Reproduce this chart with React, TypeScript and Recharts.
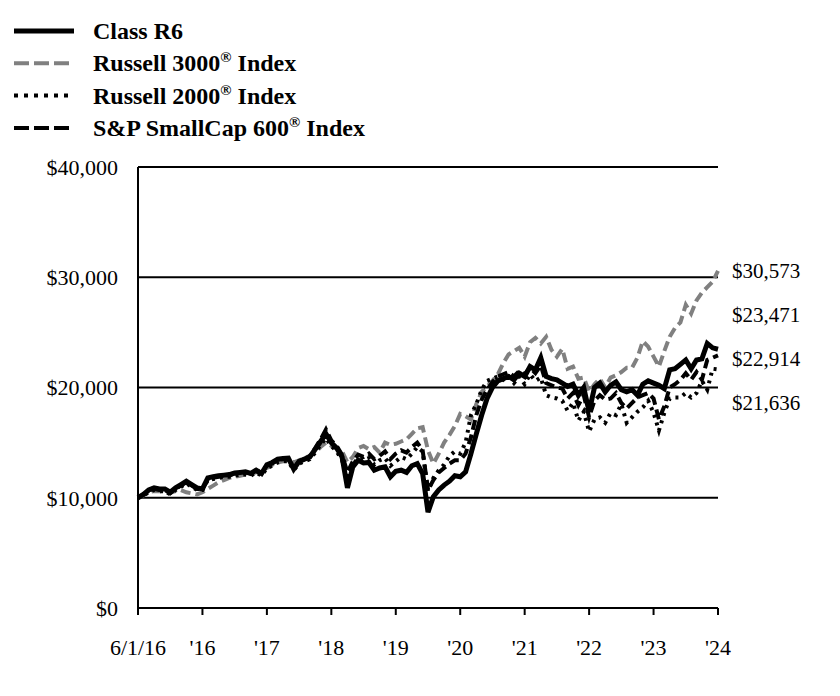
import React from 'react';
import { LineChart, Line, XAxis, YAxis, CartesianGrid } from 'recharts';

// monthly growth of a $10,000 investment
const classR6 = [
    10000, 10300, 10700, 10900, 10800, 10800, 10500, 10900, 11200, 11500, 11200, 10900,
    10800, 11800, 11900, 12000, 12050, 12100, 12250, 12300, 12350, 12200, 12500, 12200,
    13000, 13200, 13500, 13550, 13600, 12600, 13300, 13500, 13700, 14400, 15100, 15800,
    15000, 14500, 13700, 10900, 12800, 13400, 13150, 13200, 12500, 12700, 12800, 11900,
    12400, 12500, 12300, 12900, 13100, 12200, 8700, 10100, 10700, 11150, 11500, 12000,
    11900, 12350, 14000, 15800, 17500, 19000, 20000, 20600, 20800, 21000, 20700, 21300,
    21000, 21900, 21600, 22700, 21000, 20800, 20700, 20400, 20100, 20300, 19300, 20000,
    17800, 20000, 20400, 19600, 20200, 20500, 19800, 19600, 19800, 19300, 20300, 20600,
    20400, 20200, 19900, 21600, 21700, 22100, 22500, 21700, 22500, 22600, 24000, 23600,
    23471,
];

const russell3000 = [
    10000, 10200, 10500, 10600, 10600, 10500, 10450, 10600, 10700, 10500, 10400, 10300,
    10500, 10800, 11100, 11400, 11600, 11800, 11900, 12000, 12100, 12200, 12300, 12500,
    12700, 13000, 13200, 13300, 13500, 13200, 13400, 13600, 13800, 14100, 14600, 15000,
    14700, 14500, 14200, 13200, 13700, 14500, 14700, 14400, 14600, 14100, 15000, 14800,
    14900, 15100, 15300, 15800, 16300, 16400, 14300, 13100, 14000, 15000, 15700, 16500,
    17600, 17400, 17100, 18500, 19600, 20100, 20600, 21200, 22200, 23000, 23300, 23600,
    22800, 24100, 24500, 24000, 24600, 23400, 22800, 23500, 21700, 21900, 20800, 20900,
    19600, 20300, 20800, 20000, 20900, 21100, 21400, 21800, 21800, 22700, 24200, 23700,
    22800, 21900, 23300, 24600, 25400, 25900, 27500, 26700, 27900, 28600, 29100, 29600,
    30573,
];

const russell2000 = [
    10000, 10200, 10500, 10700, 10600, 10600, 10300, 10700, 11000, 11300, 11000, 10700,
    10700, 11600, 11700, 11800, 11900, 11900, 12000, 12100, 12100, 12000, 12300, 12000,
    12700, 12900, 13200, 13300, 13300, 12500, 13100, 13300, 13500, 14100, 14800, 15400,
    14700, 14200, 13400, 12000, 13000, 13600, 13400, 13600, 13000, 13400, 13600, 12900,
    13300, 13700, 13500, 14000, 14600, 14200, 10600, 11800, 12500, 13000, 13800, 14200,
    14000, 15000, 17500, 18500, 19800, 20600, 20800, 21000, 20700, 21000, 20400, 21000,
    20300, 21200, 20600, 20900, 19300, 19100, 19000, 18800, 17900, 18600, 17000, 17800,
    16000, 17100, 17300, 16800, 17700, 17500, 18500, 16800, 17300, 17800, 18200, 18800,
    17700, 16100, 17700, 19000, 19100, 19100, 19500, 19100, 19500, 20600, 19800, 21700,
    21636,
];

const sp600 = [
    10000, 10300, 10600, 10800, 10700, 10700, 10400, 10800, 11100, 11400, 11100, 10800,
    10800, 11700, 11800, 11900, 12000, 12000, 12200, 12200, 12300, 12200, 12400, 12200,
    12900, 13100, 13400, 13500, 13500, 12700, 13300, 13500, 13800, 14500, 15300, 16200,
    15200, 14700, 13900, 12300, 13300, 13900, 13700, 14000, 13500, 13800, 14200, 13500,
    14000, 14300, 14100, 14600, 15000, 14300, 10700, 11600, 12300, 12700, 13100, 13400,
    13400, 14000, 15500, 17500, 18900, 19800, 20500, 21000, 21200, 21400, 21000, 21500,
    21200, 21800, 21300, 22000, 20400, 20200, 20000, 19900, 19000, 19500, 18400, 19300,
    17300, 18800, 19300, 18900, 19000, 19500, 18600, 18100, 18600, 19100, 19300, 19500,
    19000, 17100, 18300, 20000, 20300, 20700, 21300, 20700, 21400, 20700, 22500, 22700,
    22914,
];

const tickLabels = ['6/1/16', "'16", "'17", "'18", "'19", "'20", "'21", "'22", "'23", "'24"];
const yTicks = [0, 10000, 20000, 30000, 40000];
const endValues = [30573, 23471, 22914, 21636];

const data = classR6.map((v, i) => ({
    m: i,
    classR6: v,
    russell3000: russell3000[i],
    russell2000: russell2000[i],
    sp600: sp600[i],
}));

const lastIndex = classR6.length - 1;
const monthsPerTick = lastIndex / (tickLabels.length - 1);
const xTicks = tickLabels.map((_, i) => i * monthsPerTick);

const FONT = '"Liberation Serif", "Times New Roman", serif';
const GRAY = '#808080';

const money = (v: number) => `$${v.toLocaleString('en-US')}`;

function Legend() {
    const rows = [
        { name: 'Class R6', stroke: '#000', dash: undefined, width: 5 },
        { name: 'Russell 3000', reg: true, stroke: GRAY, dash: '15 5', width: 4 },
        { name: 'Russell 2000', reg: true, stroke: '#000', dash: '4 6', width: 4 },
        { name: 'S&P SmallCap 600', reg: true, stroke: '#000', dash: '15 5', width: 4 },
    ];
    return (
        <svg width={420} height={150} style={{ position: 'absolute', left: 0, top: 0 }}>
            {rows.map((r, i) => {
                const y = 31 + i * 32.3;
                return (
                    <g key={r.name}>
                        <line x1={14} x2={74} y1={y} y2={y} stroke={r.stroke} strokeWidth={r.width} strokeDasharray={r.dash} />
                        <text x={93} y={y + 8} fontFamily={FONT} fontWeight="bold" fontSize={24} fill="#000">
                            {r.name}
                            {r.reg && (
                                <>
                                    <tspan fontSize={15} dy={-9}>®</tspan>
                                    <tspan dy={9}> Index</tspan>
                                </>
                            )}
                        </text>
                    </g>
                );
            })}
        </svg>
    );
}

function EndLabels() {
    // labels stacked down from the Russell 3000 end value
    const top = 608 - (endValues[0] / 40000) * 441;
    return (
        <svg width={840} height={696} style={{ position: 'absolute', left: 0, top: 0, pointerEvents: 'none' }}>
            {endValues.map((v, i) => (
                <text key={v} x={732} y={top + i * 44} dy="0.35em" fontFamily={FONT} fontSize={21} fill="#000">
                    {money(v)}
                </text>
            ))}
        </svg>
    );
}

export default function App() {
    return (
        <div style={{ position: 'absolute', left: 0, top: 0, width: 840, height: 696, background: '#fff' }}>
            <LineChart width={840} height={696} data={data} margin={{ top: 167, right: 122, bottom: 28, left: 78 }}>
                <CartesianGrid vertical={false} stroke="#000" strokeWidth={2} />
                <XAxis
                    dataKey="m"
                    type="number"
                    domain={[0, lastIndex]}
                    ticks={xTicks}
                    tickFormatter={(v: number) => tickLabels[Math.round(v / monthsPerTick)]}
                    height={60}
                    axisLine={{ stroke: '#000', strokeWidth: 2 }}
                    tickLine={{ stroke: '#000', strokeWidth: 2 }}
                    tickSize={7}
                    tickMargin={24}
                    tick={{ fill: '#000', fontFamily: FONT, fontSize: 22 }}
                    interval={0}
                />
                <YAxis
                    domain={[0, 40000]}
                    ticks={yTicks}
                    tickFormatter={money}
                    width={60}
                    axisLine={{ stroke: '#000', strokeWidth: 2 }}
                    tickLine={false}
                    tickSize={0}
                    tickMargin={20}
                    tick={{ fill: '#000', fontFamily: FONT, fontSize: 22 }}
                    interval={0}
                />
                <Line dataKey="russell3000" stroke={GRAY} strokeWidth={4} strokeDasharray="10 5" dot={false} activeDot={false} isAnimationActive={false} />
                <Line dataKey="russell2000" stroke="#000" strokeWidth={4} strokeDasharray="3 5" dot={false} activeDot={false} isAnimationActive={false} />
                <Line dataKey="sp600" stroke="#000" strokeWidth={4} strokeDasharray="10 5" dot={false} activeDot={false} isAnimationActive={false} />
                <Line dataKey="classR6" stroke="#000" strokeWidth={5} dot={false} activeDot={false} isAnimationActive={false} />
            </LineChart>
            <Legend />
            <EndLabels />
        </div>
    );
}
